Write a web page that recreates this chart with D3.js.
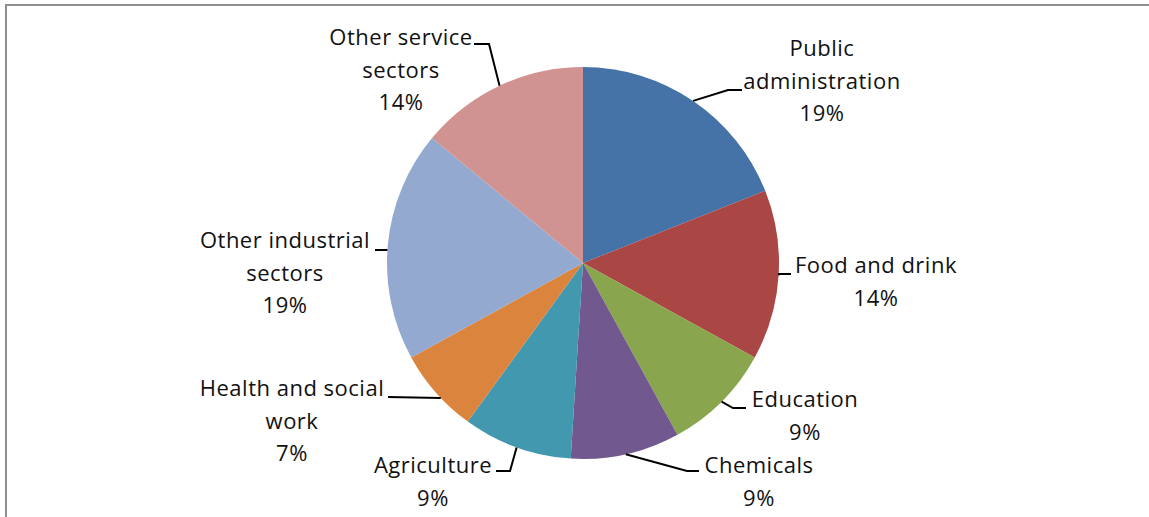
<!DOCTYPE html>
<html>
<head>
<meta charset="utf-8">
<script src="https://cdn.jsdelivr.net/npm/d3@7"></script>
<style>
  html, body { margin: 0; padding: 0; background: #fff; }
  svg { display: block; }
  .lbl { font-family: "Open Sans", Lato, sans-serif; font-size: 22px; letter-spacing: 0.5px; fill: #111; }
</style>
</head>
<body>
<svg id="chart" width="1149" height="517"></svg>
<script>
// Sector shares, in percent, clockwise from twelve o'clock
const sectors = [
  "Public administration", "Food and drink", "Education", "Chemicals",
  "Agriculture", "Health and social work", "Other industrial sectors", "Other service sectors"
];
const shares = [19, 14, 9, 9, 9, 7, 19, 14];
const labelLines = [
  ["Public", "administration"],
  ["Food and drink"],
  ["Education"],
  ["Chemicals"],
  ["Agriculture"],
  ["Health and social", "work"],
  ["Other industrial", "sectors"],
  ["Other service", "sectors"]
];
const colors = ["#4572A7", "#AA4643", "#89A54E", "#71588F", "#4198AF", "#DB843D", "#93A9CF", "#D19392"];

// Label placement: text centre x, first baseline y, leader elbow/end points,
// and an optional attach angle (degrees) on the rim instead of the slice middle
const labelLayout = [
  { x: 822, y: 56,  path: [[728, 90], [742, 90]] },
  { x: 876, y: 273, path: [[779, 274], [791, 274]] },
  { x: 805, y: 407, path: [[733, 408], [746, 408]] },
  { x: 759, y: 473, path: [[687, 471], [699, 471]] },
  { x: 433, y: 473, path: [[510, 471], [496, 471]] },
  { x: 292, y: 396, path: [[388, 397]], attach: 226.5 },
  { x: 285, y: 248, path: [[375, 250]], attach: 273.8 },
  { x: 401, y: 45,  path: [[489, 44], [474, 44]] }
];

const svg = d3.select("#chart");
const cx = 583, cy = 263, r = 196;
const lineGap = 32.5;

// Chart frame
svg.append("path")
  .attr("d", "M6,520 L6,5 L1152,5")
  .attr("fill", "none")
  .attr("stroke", "#8f8f8f")
  .attr("stroke-width", 2);

const data = sectors.map((s, i) => ({ name: s, value: shares[i], lines: labelLines[i], color: colors[i], layout: labelLayout[i] }));
const total = d3.sum(shares);

const pie = d3.pie().sort(null).value(d => d.value);
const arc = d3.arc().innerRadius(0).outerRadius(r);
const arcs = pie(data);

const g = svg.append("g").attr("transform", `translate(${cx},${cy})`);
g.selectAll("path.slice")
  .data(arcs)
  .join("path")
  .attr("class", "slice")
  .attr("d", arc)
  .attr("fill", d => d.data.color);

// Leader lines from the rim to each label
const rim = a => [cx + r * Math.sin(a), cy - r * Math.cos(a)];
svg.selectAll("polyline.leader")
  .data(arcs)
  .join("polyline")
  .attr("class", "leader")
  .attr("points", d => {
    const L = d.data.layout;
    const a = L.attach != null ? L.attach * Math.PI / 180 : (d.startAngle + d.endAngle) / 2;
    return [rim(a), ...L.path].map(p => p.join(",")).join(" ");
  })
  .attr("fill", "none")
  .attr("stroke", "#000")
  .attr("stroke-width", 2);

// Labels: category name lines followed by the percentage
const fmt = v => Math.round(v / total * 100) + "%";
const texts = svg.selectAll("text.lbl")
  .data(arcs)
  .join("text")
  .attr("class", "lbl")
  .attr("text-anchor", "middle")
  .attr("x", d => d.data.layout.x)
  .attr("y", d => d.data.layout.y);

texts.each(function(d) {
  const t = d3.select(this);
  const lines = [...d.data.lines, fmt(d.data.value)];
  lines.forEach((s, i) => {
    t.append("tspan")
      .attr("x", d.data.layout.x)
      .attr("y", d.data.layout.y + i * lineGap)
      .text(s);
  });
});
</script>
</body>
</html>
